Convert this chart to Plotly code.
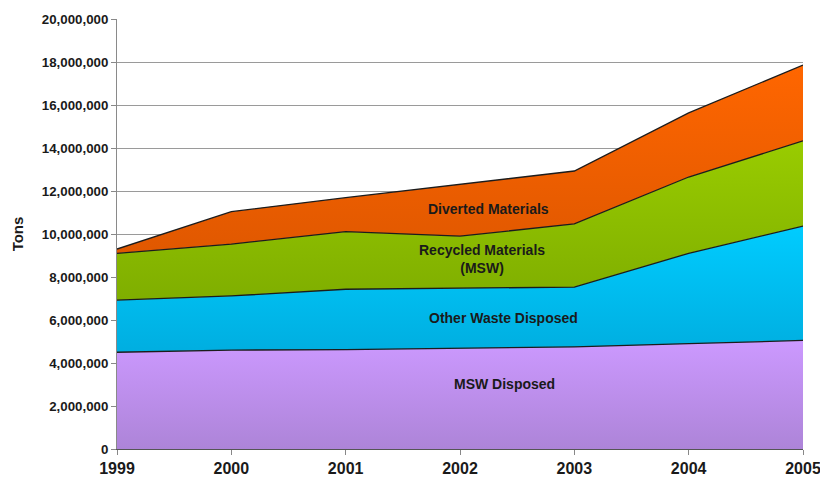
import plotly.graph_objects as go

years = [1999, 2000, 2001, 2002, 2003, 2004, 2005]
msw_disposed = [4500000, 4600000, 4620000, 4700000, 4750000, 4900000, 5050000]
other_waste = [2420000, 2520000, 2810000, 2790000, 2780000, 4200000, 5320000]
recycled = [2180000, 2410000, 2680000, 2410000, 2940000, 3550000, 3960000]
diverted = [200000, 1510000, 1580000, 2400000, 2460000, 2980000, 3530000]

series = [
    ("MSW Disposed", msw_disposed, "#ad84d8", "#cc99ff"),
    ("Other Waste Disposed", other_waste, "#00aee0", "#00ccff"),
    ("Recycled Materials (MSW)", recycled, "#7fae00", "#99cc00"),
    ("Diverted Materials", diverted, "#e05800", "#ff6600"),
]

fig = go.Figure()
for name, vals, dark, light in series:
    fig.add_trace(go.Scatter(
        x=years, y=vals, name=name, mode="lines", stackgroup="one",
        line=dict(color="#1c1c1c", width=1.3),
        fillcolor=light,
        fillgradient=dict(type="vertical", colorscale=[[0, dark], [1, light]]),
        hoverinfo="x+y+name",
    ))

font_lbl = dict(family="Liberation Sans, Arial, sans-serif", size=14, color="#1a1a1a")
labels = [
    (2002.25, 11150000, "<b>Diverted Materials</b>"),
    (2002.19, 8840000, "<b>Recycled Materials<br>(MSW)</b>"),
    (2002.38, 6090000, "<b>Other Waste Disposed</b>"),
    (2002.39, 3020000, "<b>MSW Disposed</b>"),
]
for x, y, t in labels:
    fig.add_annotation(x=x, y=y, text=t, showarrow=False, font=font_lbl,
                       xanchor="center", yanchor="middle")

fig.update_layout(
    width=820, height=483,
    margin=dict(l=117, r=17, t=19, b=34),
    paper_bgcolor="white", plot_bgcolor="white",
    showlegend=False,
    font=dict(family="Liberation Sans, Arial, sans-serif", color="#1a1a1a"),
    xaxis=dict(
        range=[1999, 2005], tickmode="array", tickvals=years,
        ticktext=[f"<b>{y}</b>" for y in years],
        tickfont=dict(size=16, color="#1a1a1a"),
        ticklabeloverflow="allow",
        showgrid=False, zeroline=False, automargin=False,
        showline=True, linecolor="#555555", linewidth=1,
        ticks="outside", ticklen=5, tickcolor="#888888",
    ),
    yaxis=dict(
        range=[0, 20000000], dtick=2000000, tickformat=",",
        tickfont=dict(size=13.3, color="#1a1a1a", weight="bold"),
        showgrid=True, gridcolor="#9a9a9a", gridwidth=1,
        zeroline=False, automargin=False,
        showline=True, linecolor="#8a8a8a", linewidth=1,
        ticks="outside", ticklen=5, tickcolor="#888888",
        title=dict(text="<b>Tons</b>", font=dict(size=15, color="#1a1a1a"), standoff=14),
    ),
)

fig.write_html("out.html")
